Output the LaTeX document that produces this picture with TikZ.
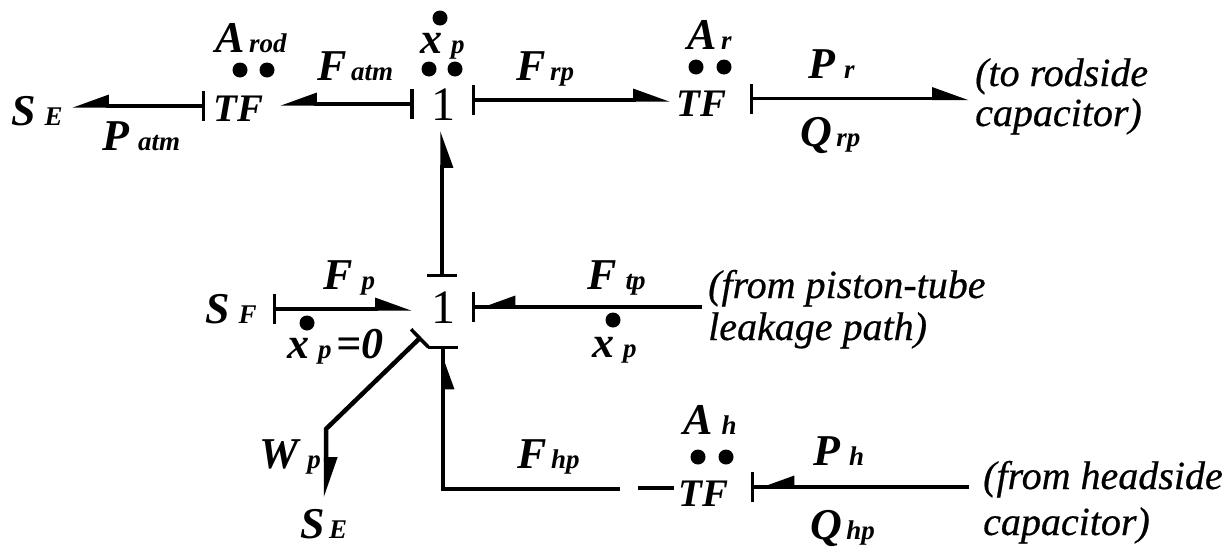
\documentclass[tikz,border=0pt]{standalone}
\usepackage{fontspec}
\usetikzlibrary{arrows.meta}
\setmainfont{Liberation Serif}
\newfontface\notefont{Liberation Serif Italic}[FakeBold=0.5]
\newcommand{\subs}[1]{{\fontsize{27}{27}\selectfont\bfseries\itshape\,#1}}
\tikzset{
  lab/.style={anchor=base west,inner sep=0pt,font=\fontsize{44}{44}\selectfont\bfseries\itshape},
  tflab/.style={anchor=base west,inner sep=0pt,font=\fontsize{39}{39}\selectfont\bfseries\itshape},
  note/.style={anchor=base west,inner sep=0pt,font=\fontsize{40}{40}\selectfont\notefont},
  junction/.style={anchor=base,inner sep=0pt,font=\fontsize{48}{48}\selectfont},
  dotmark/.style={circle,fill=black,inner sep=0pt,minimum size=15pt},
  bond/.style={line width=3.4pt,draw=black},
  barL/.style={{Bar[width=30pt,line width=3.4pt]}-{Triangle[harpoon,swap,length=32pt,width=22pt]}},
  barR/.style={{Bar[width=30pt,line width=3.4pt]}-{Triangle[harpoon,length=32pt,width=22pt]}},
  headbar/.style={-{Triangle[harpoon,swap,length=32pt,width=22pt,sep=3pt] Bar[width=30pt,line width=3.4pt]}},
}
\begin{document}
\begin{tikzpicture}[x=1pt,y=-1pt]
\useasboundingbox (0,0) rectangle (1226,549);
\fill[white] (0,0) rectangle (1226,549);
% top row
\node[lab] (se1) at (11,125) {S\subs{\,E}};
\node[lab] (patm) at (102,150) {P\subs{\,atm}};
\node[lab] (arod) at (215,52) {A\subs{rod}};
\node[dotmark] (d1) at (240,70) {};
\node[dotmark] (d2) at (267,70) {};
\node[tflab] (tf1) at (213,121) {TF};
\node[lab] (fatm) at (317,80) {F\subs{atm}};
\node[lab] (xp1) at (420,53) {x\subs{\,p}};
\node[dotmark] (d3) at (440,18) {};
\node[dotmark] (d4) at (429,69) {};
\node[dotmark] (d5) at (455,69) {};
\node[junction] (one1) at (443,120) {1};
\node[lab] (frp) at (516,80) {F\subs{rp}};
\node[lab] (ar) at (687,49) {A\subs{r}};
\node[dotmark] (d6) at (696,67) {};
\node[dotmark] (d7) at (724,67) {};
\node[tflab] (tf2) at (676,116) {TF};
\node[lab] (pr) at (808,78) {P\subs{\,r}};
\node[lab] (qrp) at (800,146) {Q\subs{rp}};
\node[note] (n1) at (975,86) {(to rodside};
\node[note] (n2) at (975,126) {capacitor)};
% middle row
\node[lab] (sf) at (205,323) {S\subs{\,F}};
\node[lab] (fp) at (323,289) {F\subs{\,p}};
\node[dotmark] (d8) at (307,323) {};
\node[lab] (xp2) at (287,358) {x\subs{\,p\,}=0};
\node[junction] (one2) at (443,323) {1};
\node[lab] (ftp) at (587,289) {F\subs{\,t\kern-1pt p}};
\node[dotmark] (d9) at (613,320) {};
\node[lab] (xp3) at (592,357) {x\subs{\,p}};
\node[note] (n3) at (708,298) {(from piston-tube};
\node[note] (n4) at (708,340) {leakage path)};
% lower part
\node[lab] (wp) at (259,468) {W\subs{\,p}};
\node[lab] (se2) at (300,538) {S\subs{E}};
\node[lab] (fhp) at (517,468) {F\subs{hp}};
\node[lab] (ah) at (683,434) {A\subs{\,h}};
\node[dotmark] (d10) at (698,457) {};
\node[dotmark] (d11) at (726,457) {};
\node[tflab] (tf3) at (678,506) {TF};
\node[lab] (ph) at (813,465) {P\subs{\,h}};
\node[lab] (qhp) at (810,539) {Q\subs{hp}};
\node[note] (n5) at (983,489) {(from headside};
\node[note] (n6) at (983,535) {capacitor)};
% connector ends
\coordinate (a1s) at (205,106); \coordinate (a1e) at (72,106);
\coordinate (a2s) at (413.5,104); \coordinate (a2e) at (280,104);
\coordinate (a3s) at (472,100); \coordinate (a3e) at (670,100);
\coordinate (a4s) at (750,98.5); \coordinate (a4e) at (969,98.5);
\coordinate (a5s) at (442,277); \coordinate (a5e) at (442,131);
\coordinate (a6s) at (272.5,309); \coordinate (a6e) at (412,309);
\coordinate (a7s) at (702,307); \coordinate (a7e) at (472,307);
\coordinate (a8s) at (421,337); \coordinate (a8k) at (326,429); \coordinate (a8e) at (326,498);
\coordinate (a9s) at (638,488); \coordinate (a9e) at (674,488);
\coordinate (a10s) at (620,489); \coordinate (a10k) at (443,489); \coordinate (a10e) at (443,346);
\coordinate (a11s) at (969,487); \coordinate (a11e) at (751,487);
\draw[bond,barL] (a1s) -- (a1e);
\draw[bond,barL] (a2s) -- (a2e);
\draw[bond,barR] (a3s) -- (a3e);
\draw[bond,barR] (a4s) -- (a4e);
\draw[bond,barL] (a5s) -- (a5e);
\draw[bond,barR] (a6s) -- (a6e);
\draw[bond,headbar] (a7s) -- (a7e);
\draw[bond,line width=4.5pt,{Bar[width=25pt,line width=3.5pt]}-{Triangle[harpoon,length=34pt,width=22pt]}] (a8s) -- (a8k) -- (a8e);
\draw[bond] (a9s) -- (a9e);
\draw[bond,headbar] (a10s) -- (a10k) -- (a10e);
\draw[bond,headbar] (a11s) -- (a11e);
\end{tikzpicture}
\end{document}
